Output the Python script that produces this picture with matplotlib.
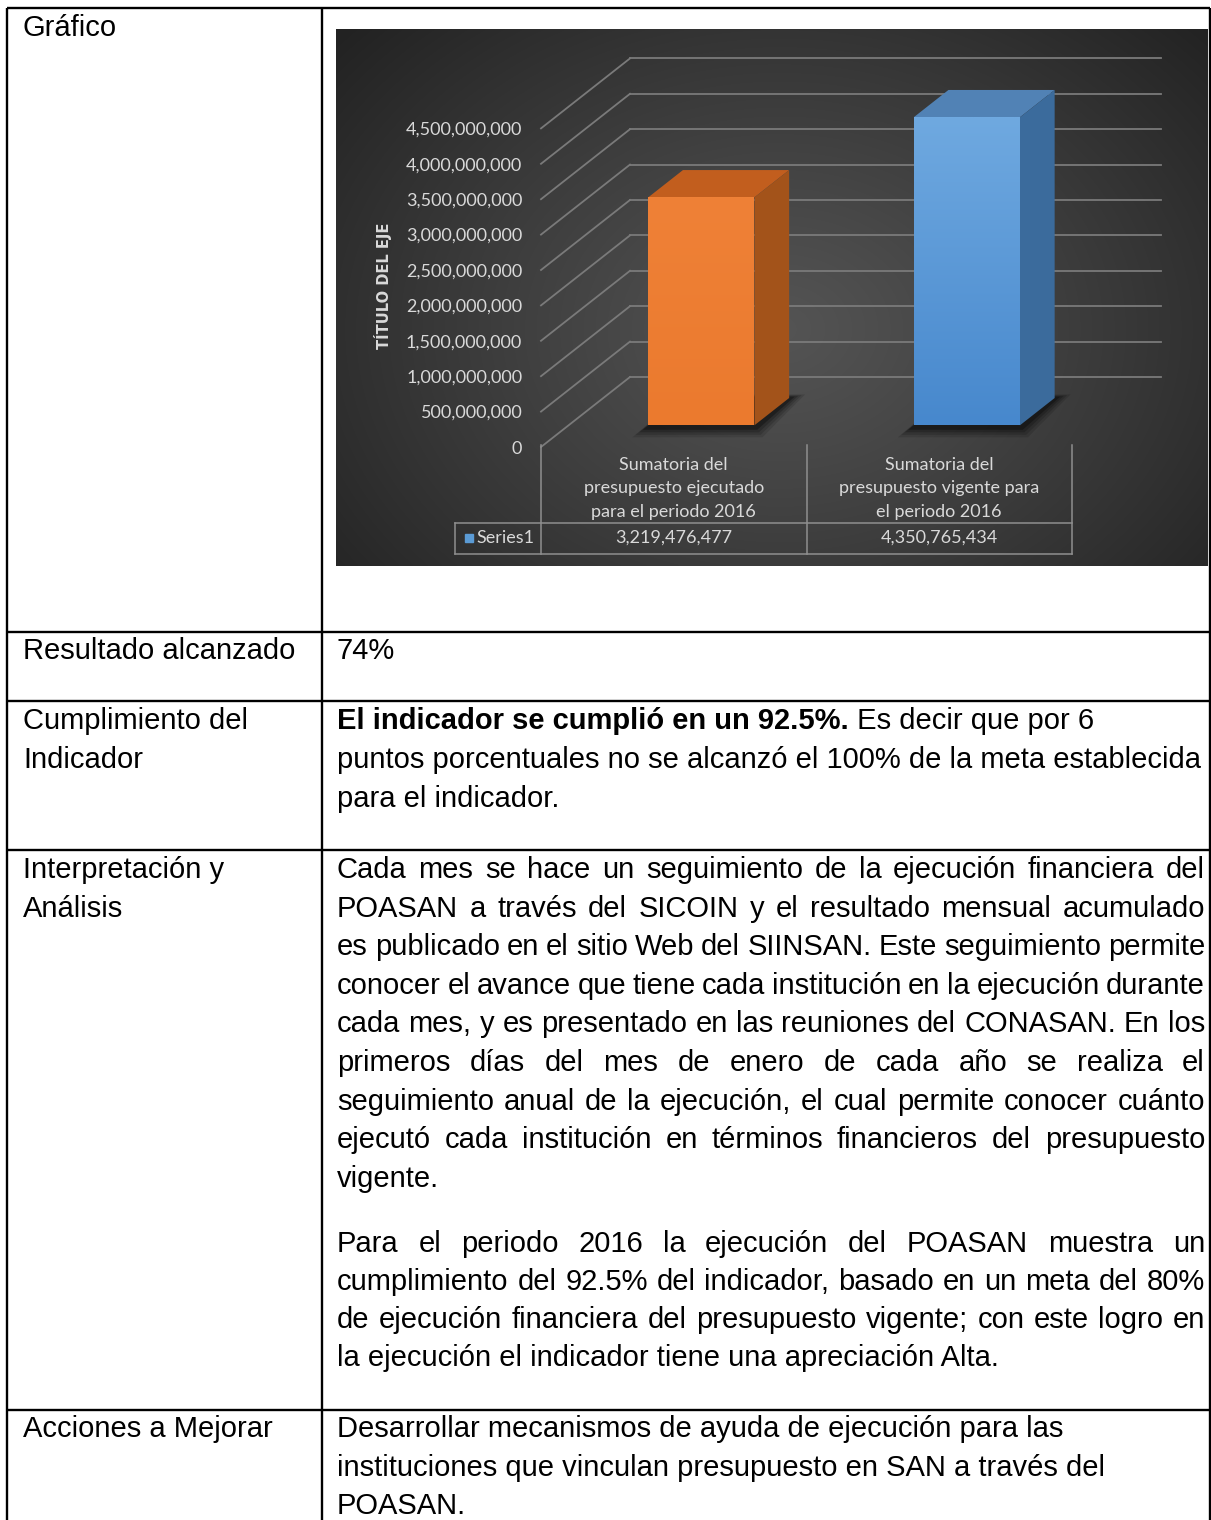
import numpy as np
import matplotlib
matplotlib.use("Agg")
import matplotlib.pyplot as plt
from matplotlib.patches import Polygon
from matplotlib.transforms import blended_transform_factory

# ---------------- data ----------------
categories = ["Sumatoria del\npresupuesto ejecutado\npara el periodo 2016",
              "Sumatoria del\npresupuesto vigente para\nel periodo 2016"]
values = [3219476477, 4350765434]
series_name = "Series1"
y_ticks = [0, 500000000, 1000000000, 1500000000, 2000000000, 2500000000,
           3000000000, 3500000000, 4000000000, 4500000000]
axis_title = "TÍTULO DEL EJE"

row_labels = [["Gráfico"], ["Resultado alcanzado"], ["Cumplimiento del", "Indicador"],
              ["Interpretación y", "Análisis"], ["Acciones a Mejorar"]]
resultado = "74%"
cumpl_bold = "El indicador se cumplió en un 92.5%."
cumpl_lines = [" Es decir que por 6",
               "puntos porcentuales no se alcanzó el 100% de la meta establecida",
               "para el indicador."]
para1 = ["Cada mes se hace un seguimiento de la ejecución financiera del",
         "POASAN a través del SICOIN y el resultado mensual acumulado",
         "es publicado en el sitio Web del SIINSAN. Este seguimiento permite",
         "conocer el avance que tiene cada institución en la ejecución durante",
         "cada mes, y es presentado en las reuniones del CONASAN. En los",
         "primeros días del mes de enero de cada año se realiza el",
         "seguimiento anual de la ejecución, el cual permite conocer cuánto",
         "ejecutó cada institución en términos financieros del presupuesto",
         "vigente."]
para2 = ["Para el periodo 2016 la ejecución del POASAN muestra un",
         "cumplimiento del 92.5% del indicador, basado en un meta del 80%",
         "de ejecución financiera del presupuesto vigente; con este logro en",
         "la ejecución el indicador tiene una apreciación Alta."]
acciones = ["Desarrollar mecanismos de ayuda de ejecución para las",
            "instituciones que vinculan presupuesto en SAN a través del",
            "POASAN."]

# ---------------- figure ----------------
W, H = 1211, 1520
fig = plt.figure(figsize=(W / 100, H / 100), dpi=100)
fig.patch.set_facecolor("white")
page = fig.add_axes([0, 0, 1, 1], zorder=0)
page.set_xlim(0, W)
page.set_ylim(H, 0)
page.axis("off")

DOC_FONT = "Liberation Sans"
FS = 21

# table lines
lw = 1.7
for yy in [8, 632, 701, 850, 1410]:
    page.plot([7, 1210], [yy, yy], color="black", lw=lw, solid_capstyle="butt")
for xx in [7, 322, 1210]:
    page.plot([xx, xx], [8, H + 5], color="black", lw=lw, solid_capstyle="butt")

renderer = fig.canvas.get_renderer()


def txt(x, y, s, weight="normal"):
    return page.text(x, y, s, fontsize=FS, family=DOC_FONT, weight=weight,
                     ha="left", va="baseline", color="black")


def width_of(s, weight="normal"):
    t = page.text(0, 0, s, fontsize=FS, family=DOC_FONT, weight=weight)
    w = t.get_window_extent(renderer).width
    t.remove()
    return w


def justified(x0, x1, y, line):
    words = line.split(" ")
    ws = [width_of(w) for w in words]
    gap = (x1 - x0 - sum(ws)) / (len(words) - 1)
    x = x0
    for w, wd in zip(words, ws):
        txt(x, y, w)
        x += wd + gap


# left column
LX = 23
label_base = [[36], [659], [729, 768], [878, 916.6], [1437]]
for labs, bases in zip(row_labels, label_base):
    for s, b in zip(labs, bases):
        txt(LX, b, s)

RX0, RX1 = 337, 1205
txt(RX0, 659, resultado)
bw = width_of(cumpl_bold, "bold")
txt(RX0, 729, cumpl_bold, "bold")
txt(RX0 + bw, 729, cumpl_lines[0])
txt(RX0, 768, cumpl_lines[1])
txt(RX0, 807, cumpl_lines[2])

for i, line in enumerate(para1):
    yb = 878 + i * 38.6
    if i < len(para1) - 1:
        justified(RX0, RX1, yb, line)
    else:
        txt(RX0, yb, line)
for i, line in enumerate(para2):
    yb = 1252 + i * 38.0
    if i < len(para2) - 1:
        justified(RX0, RX1, yb, line)
    else:
        txt(RX0, yb, line)
for i, line in enumerate(acciones):
    txt(RX0, 1437 + i * 38.5, line)

# ---------------- chart background ----------------
CX0, CX1, CY0, CY1 = 336, 1208, 29, 566
bg = fig.add_axes([CX0 / W, 1 - CY1 / H, (CX1 - CX0) / W, (CY1 - CY0) / H], zorder=1)
gx = np.linspace(CX0, CX1, 400)
gy = np.linspace(CY0, CY1, 250)
GX, GY = np.meshgrid(gx, gy)
r = np.sqrt(((GX - 780) / 470) ** 2 + ((GY - 330) / 360) ** 2)
r = np.clip(r, 0, 1.25) / 1.25
val = (84 - 50 * r ** 1.1) / 255.0
img = np.dstack([val, val, val])
bg.imshow(img, extent=[CX0, CX1, CY1, CY0], aspect="auto", interpolation="bilinear")
bg.axis("off")

# ---------------- chart ----------------
AX0, AX1 = 541, 1072        # front plane x extent (pixels)
AY0, AYT = 447, 93          # front plane y of 0 and 5e9 (pixels)
ax = fig.add_axes([AX0 / W, 1 - AY0 / H, (AX1 - AX0) / W, (AY0 - AYT) / H], zorder=2)
ax.set_xlim(-0.5, 1.5)
ax.set_ylim(0, 5e9)
ax.patch.set_visible(False)
for sp in ax.spines.values():
    sp.set_visible(False)

px_x = (AX1 - AX0) / 2.0            # pixels per x unit
px_y = (AY0 - AYT) / 5e9            # pixels per value unit
DX = 89 / px_x                      # depth vector in data units
DY = 70 / px_y

grid_c = "#7a7a7a"
for v in y_ticks:
    ax.plot([-0.5, -0.5 + DX], [v, v + DY], color=grid_c, lw=1.3, clip_on=False)
    ax.plot([-0.5 + DX, 1.5 + DX], [v + DY, v + DY], color=grid_c, lw=1.3, clip_on=False)

f0, f1 = 0.31, 0.70
half = 0.2
front_cols = ["#ED7D31", "#5B9BD5"]
top_cols = ["#C25E1E", "#5182B5"]
side_cols = ["#A3531A", "#3B6B9C"]
grad_top = ["#EF8137", "#6FA9E0"]
grad_bot = ["#EB7A2E", "#4788CD"]

for i, v in enumerate(values):
    xl = i - half + f0 * DX
    xr = i + half + f0 * DX
    y0 = f0 * DY
    ddx = (f1 - f0) * DX
    ddy = (f1 - f0) * DY
    # shadow
    for k, a in enumerate([0.12, 0.15, 0.2, 0.3]):
        e = 0.06 - k * 0.013
        ey = (12 - k * 2.5) / px_y
        shp = [(xl - e, y0 - ey), (xr + e * 0.5, y0 - ey),
               (xr + ddx + e, y0 + ddy + ey * 0.3), (xl + ddx, y0 + ddy + ey * 0.3)]
        ax.add_patch(Polygon(shp, closed=True, color="black", alpha=a, lw=0, clip_on=False))
    front = Polygon([(xl, y0), (xr, y0), (xr, v + y0), (xl, v + y0)], closed=True,
                    facecolor=front_cols[i], edgecolor="none", clip_on=False, zorder=3)
    ax.add_patch(front)
    grad = np.linspace(0, 1, 100)[:, None]
    c1 = np.array(matplotlib.colors.to_rgb(grad_top[i]))
    c2 = np.array(matplotlib.colors.to_rgb(grad_bot[i]))
    gimg = (c1[None, None, :] * (1 - grad[:, :, None]) + c2[None, None, :] * grad[:, :, None])
    gimg = np.repeat(gimg, 2, axis=1)
    im = ax.imshow(gimg, extent=[xl, xr, y0, v + y0], aspect="auto", zorder=3.1,
                   interpolation="bilinear", origin="upper")
    im.set_clip_path(front)
    top = Polygon([(xl, v + y0), (xr, v + y0), (xr + ddx, v + y0 + ddy), (xl + ddx, v + y0 + ddy)],
                  closed=True, facecolor=top_cols[i], edgecolor="none", clip_on=False, zorder=3)
    side = Polygon([(xr, y0), (xr + ddx, y0 + ddy), (xr + ddx, v + y0 + ddy), (xr, v + y0)],
                   closed=True, facecolor=side_cols[i], edgecolor="none", clip_on=False, zorder=3)
    ax.add_patch(top)
    ax.add_patch(side)

CFS = 13
ax.set_xlim(-0.5, 1.5)
ax.set_ylim(0, 5e9)
ax.set_xticks([])
ax.set_yticks(y_ticks)
ax.set_yticklabels([f"{t:,.0f}" for t in y_ticks])
ax.tick_params(axis="y", length=0, pad=13.5, labelcolor="#d9d9d9", labelsize=CFS)
for lab in ax.get_yticklabels():
    lab.set_family("Lato")
ax.set_ylabel(axis_title, color="#d9d9d9", fontsize=10.5, fontweight="bold", family="DejaVu Sans")
ax.yaxis.set_label_coords((392 - AX0) / (AX1 - AX0), (AY0 - 286) / (AY0 - AYT))

# data table under the chart
tr = blended_transform_factory(ax.transData, ax.transAxes)


def fy(py):
    return (AY0 - py) / (AY0 - AYT)


tab_c = "#8f8f8f"
leg_x = -0.5 + (455 - AX0) / px_x
for xx in [-0.5, 0.5, 1.5]:
    ax.plot([xx, xx], [fy(445), fy(554)], color=tab_c, lw=1.1, transform=tr, clip_on=False)
ax.plot([leg_x, leg_x], [fy(523), fy(554)], color=tab_c, lw=1.1, transform=tr, clip_on=False)
for yy in [523, 554]:
    ax.plot([leg_x, 1.5], [fy(yy), fy(yy)], color=tab_c, lw=1.1, transform=tr, clip_on=False)

for i, cat in enumerate(categories):
    for j, line in enumerate(cat.split("\n")):
        ax.text(i, fy(465 + j * 23.5), line, transform=tr, ha="center", va="center",
                color="#d9d9d9", fontsize=CFS, family="Lato")
    ax.text(i, fy(538), f"{values[i]:,.0f}", transform=tr, ha="center", va="center",
            color="#d9d9d9", fontsize=CFS, family="Lato")
ax.plot([-0.5 + (468.5 - AX0) / px_x], [fy(538)], marker="s", ms=6, color="#5B9BD5",
        transform=tr, clip_on=False, lw=0)
ax.text(-0.5 + (476 - AX0) / px_x, fy(538), series_name, transform=tr, ha="left", va="center",
        color="#d9d9d9", fontsize=CFS, family="Lato")

fig.savefig("out.png", dpi=100, facecolor="white")
